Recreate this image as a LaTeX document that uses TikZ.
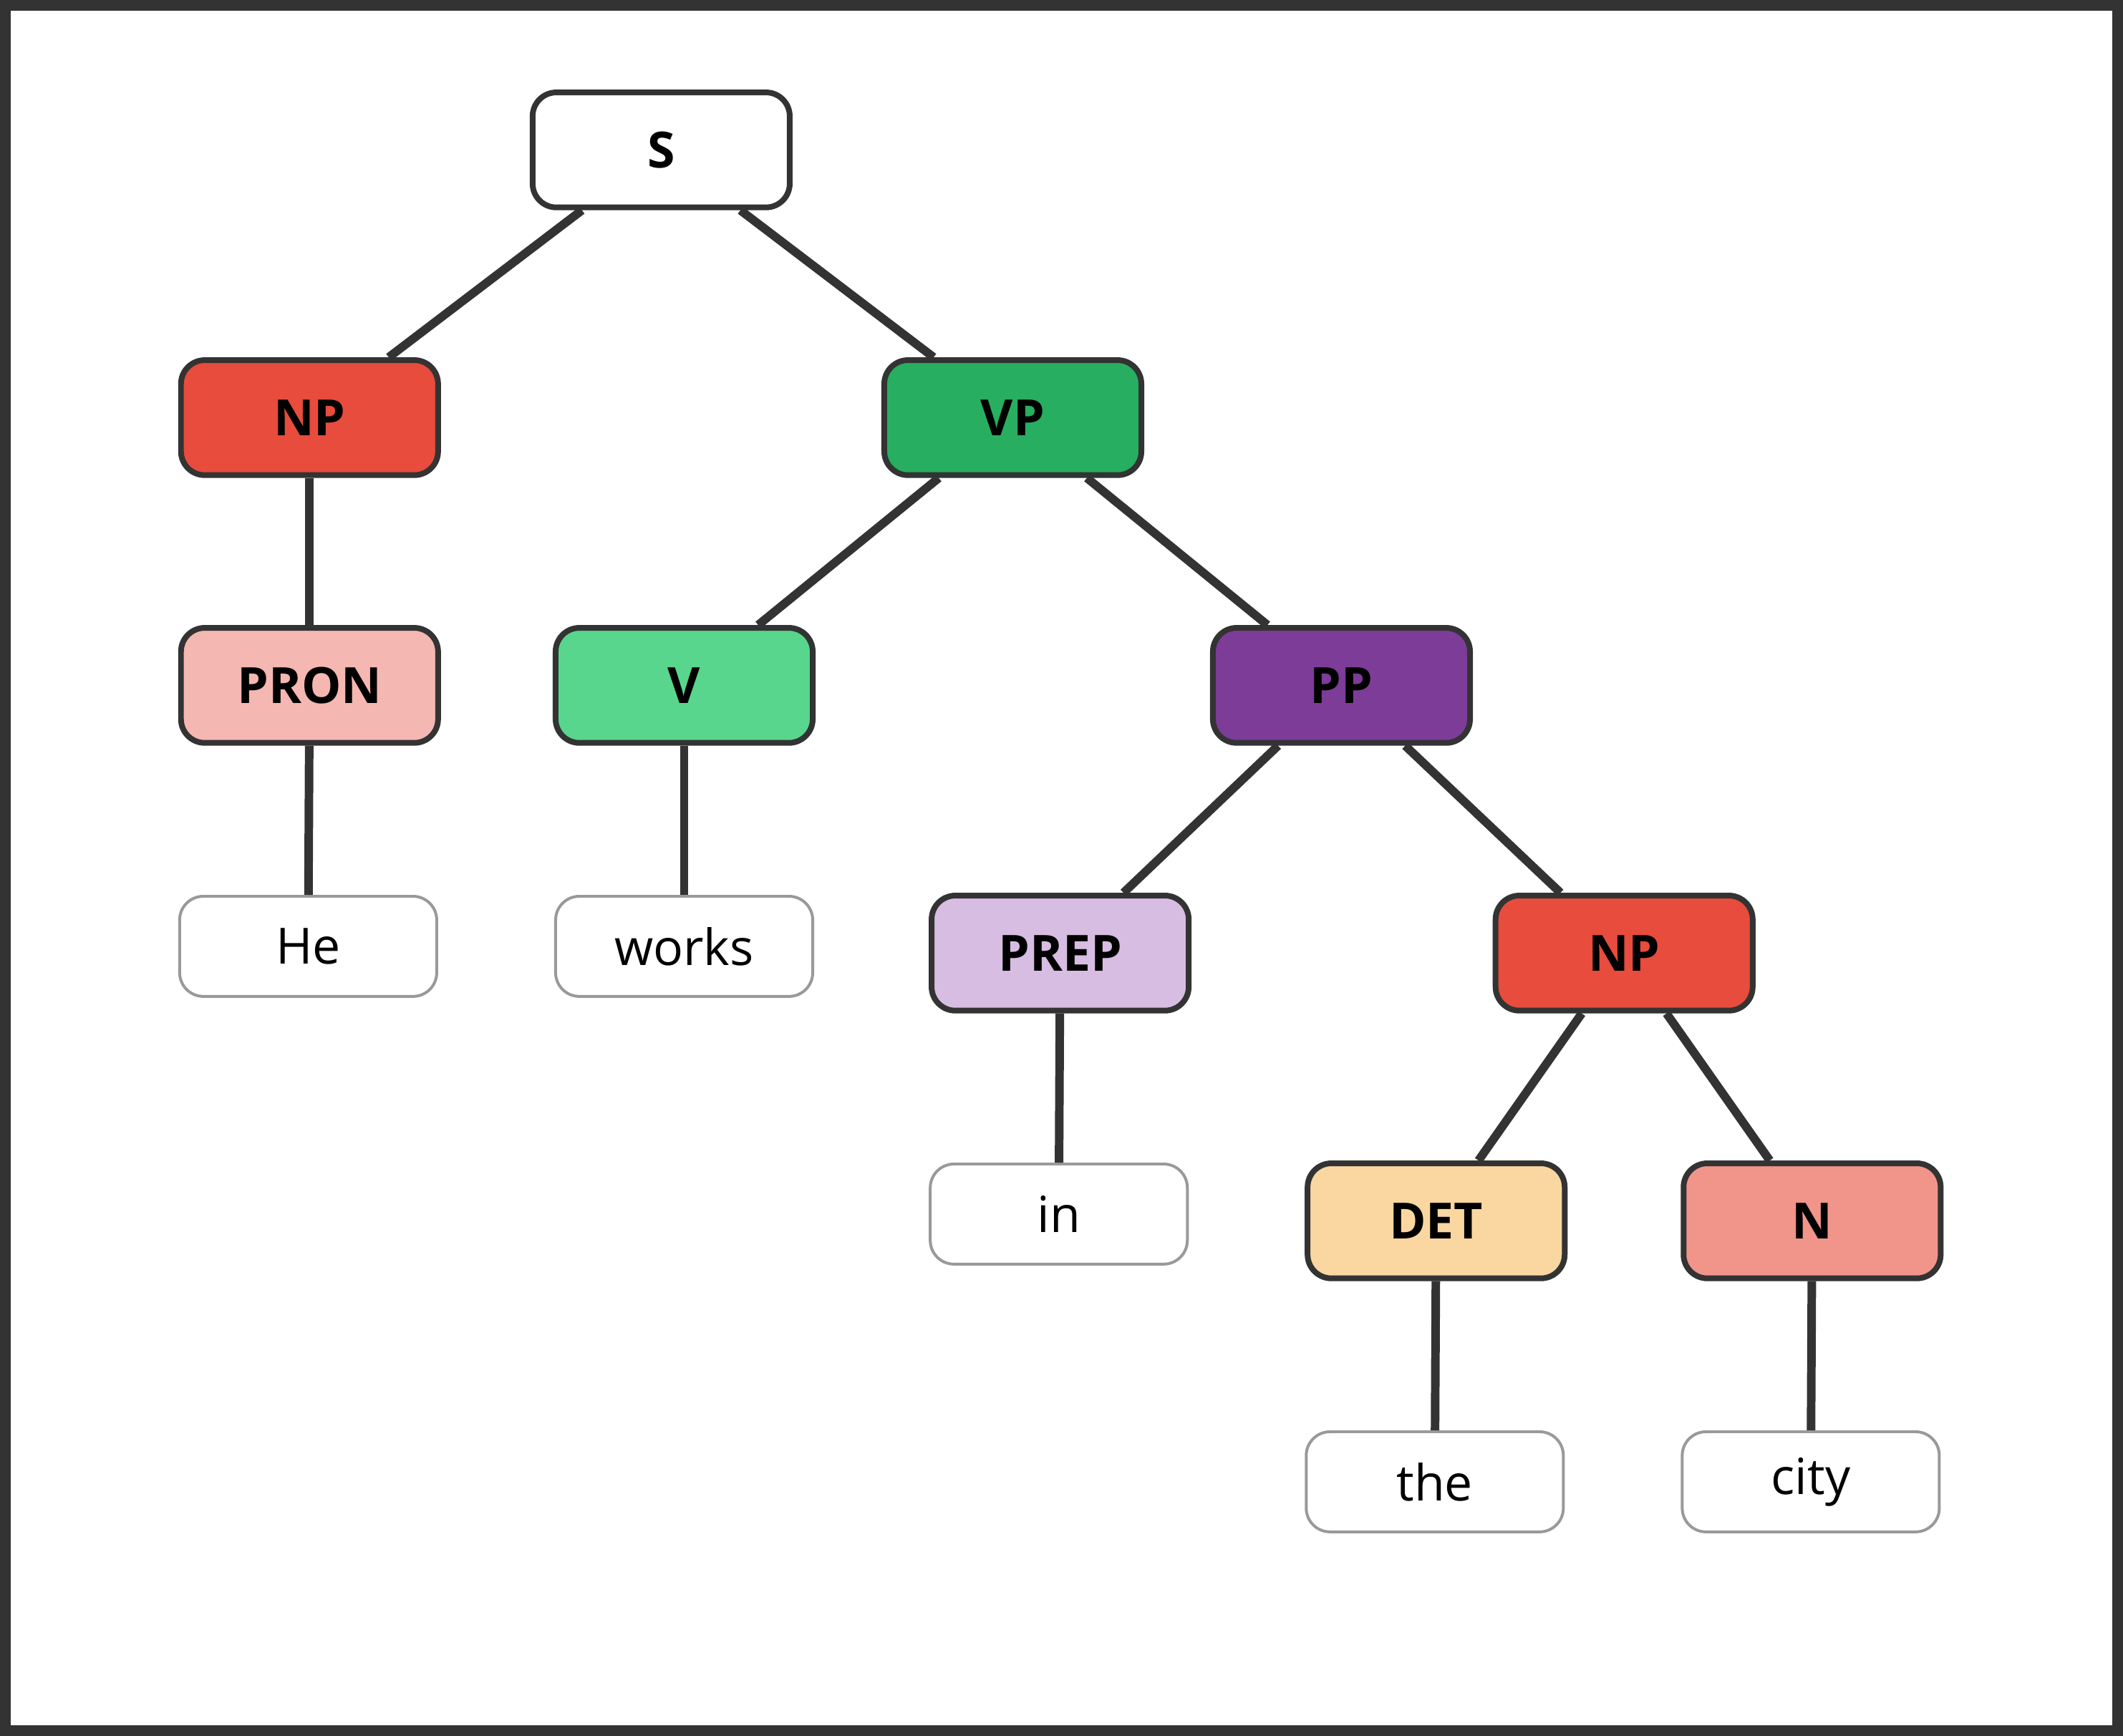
\documentclass[tikz,border=0pt]{standalone}
\usepackage{fontspec}
\setmainfont{Open Sans}
\usepackage{tikz}
\definecolor{edgegray}{HTML}{333333}
\definecolor{leafgray}{HTML}{999999}
\definecolor{npred}{HTML}{E74C3C}
\definecolor{vpgreen}{HTML}{27AE60}
\definecolor{pronpink}{HTML}{F5B7B1}
\definecolor{vgreen}{HTML}{58D68D}
\definecolor{pppurple}{HTML}{7D3C98}
\definecolor{preplilac}{HTML}{D7BDE2}
\definecolor{detsand}{HTML}{FAD7A0}
\definecolor{nsalmon}{HTML}{F1948A}

\begin{document}
\begin{tikzpicture}[x=0.01cm,y=-0.01cm,
    cat/.style={draw=edgegray,line width=1.2pt,rounded corners=5pt,
      minimum width=1.9cm,minimum height=0.85cm,font=\bfseries\fontsize{10.5}{12}\selectfont},
    leaf/.style={draw=leafgray,line width=0.6pt,rounded corners=5pt,fill=white,
      minimum width=1.9cm,minimum height=0.74cm,font=\fontsize{10.5}{12}\selectfont},
    branch/.style={edgegray,line width=1.8pt}]
          \draw[edgegray,line width=2.2pt,fill=white] (3,3) rectangle (1565,1279);
          \node[cat,fill=white] (s) at (488,110) {S};
          \node[cat,fill=npred] (np) at (228,308) {NP};
          \node[cat,fill=vpgreen] (vp) at (748,308) {VP};
          \node[cat,fill=pronpink] (pron) at (228,506) {PRON};
          \node[cat,fill=vgreen] (v) at (505,506) {V};
          \node[cat,fill=pppurple] (pp) at (991,506) {PP};
          \node[leaf] (he) at (227,699) {He};
          \node[leaf] (works) at (505,699) {works};
          \node[cat,fill=preplilac] (prep) at (783,704) {PREP};
          \node[cat,fill=npred] (npb) at (1200,704) {NP};
          \node[leaf] (in) at (782,897) {in};
          \node[cat,fill=detsand] (det) at (1061,902) {DET};
          \node[cat,fill=nsalmon] (n) at (1339,902) {N};
          \node[leaf] (the) at (1060,1095) {the};
          \node[leaf] (city) at (1338,1095) {city};
          % branches
          \draw[branch] (s)--(np);
          \draw[branch] (s)--(vp);
          \draw[branch] (np)--(pron);
          \draw[branch] (pron)--(he);
          \draw[branch] (vp)--(v);
          \draw[branch] (vp)--(pp);
          \draw[branch] (v)--(works);
          \draw[branch] (pp)--(prep);
          \draw[branch] (pp)--(npb);
          \draw[branch] (prep)--(in);
          \draw[branch] (npb)--(det);
          \draw[branch] (npb)--(n);
          \draw[branch] (det)--(the);
          \draw[branch] (n)--(city);
\end{tikzpicture}
\end{document}
